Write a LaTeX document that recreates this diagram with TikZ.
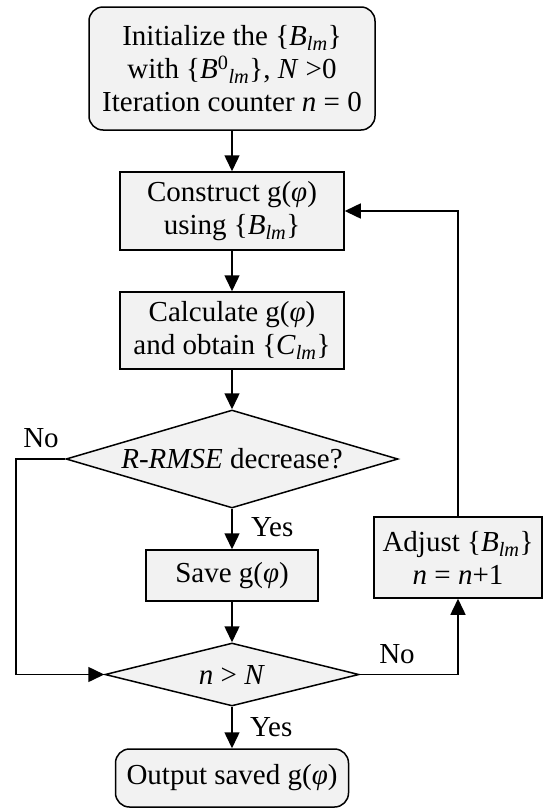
\documentclass[tikz,border=0pt]{standalone}
\usepackage{fontspec}
\setmainfont{Liberation Serif}
\usetikzlibrary{shapes.geometric,arrows.meta}
\definecolor{boxfill}{RGB}{242,242,242}
\newcommand{\fsz}{\fontsize{29}{33}\selectfont}
\newcommand{\Blm}{\{\textit{B}\textsubscript{\textit{lm}}\}}
\begin{document}
\begin{tikzpicture}[x=1pt,y=-1pt,
  box/.style={draw=black, fill=boxfill, line width=1.5pt, inner sep=0pt, align=center, font=\fsz},
  rbox/.style={box, rounded corners=14pt},
  dec/.style={box, diamond, aspect=3.4},
  arr/.style={line width=1.5pt, -{Triangle[length=16pt,width=15pt]}},
  lbl/.style={font=\fsz, inner sep=0pt}]
\useasboundingbox (0,0) rectangle (544,809);
\node[rbox, minimum width=286pt, minimum height=123pt] (init) at (232,68.5)
  {Initialize the \Blm\\ with \{\textit{B}\textsuperscript{0}\textsubscript{\textit{lm}}\}, \textit{N} >0\\ Iteration counter \textit{n} = 0};
\node[box, minimum width=224pt, minimum height=78pt] (cons) at (232,211)
  {Construct g(\textit{φ})\\ using \Blm};
\node[box, minimum width=224pt, minimum height=77pt] (calc) at (232,330.5)
  {Calculate g(\textit{φ})\\ and obtain \{\textit{C}\textsubscript{\textit{lm}}\}};
\node[dec, minimum width=332pt, minimum height=98pt] (dia1) at (232,459)
  {\makebox[0pt]{\textit{R-RMSE} decrease?}};
\node[box, minimum width=172pt, minimum height=51pt] (save) at (232,575.5)
  {Save g(\textit{φ})};
\node[dec, minimum width=254pt, minimum height=63pt] (dia2) at (232,674.5)
  {\makebox[0pt]{\textit{n} > \textit{N}}};
\node[box, minimum width=168pt, minimum height=81pt] (adj) at (458,557.5)
  {Adjust \Blm\\ \textit{n} = \textit{n}+1};
\node[rbox, minimum width=233pt, minimum height=58pt] (out) at (232,778)
  {Output saved g(\textit{φ})};
\coordinate (lx) at (16,459);
\draw[arr] (init) -- (cons);
\draw[arr] (cons) -- (calc);
\draw[arr] (calc) -- (dia1);
\draw[arr] (dia1) -- (save);
\draw[arr] (save) -- (dia2);
\draw[arr] (dia2) -- (out);
\draw[arr] (dia1.west) -- (lx) |- (dia2.west);
\draw[arr] (dia2.east) -| (adj.south);
\draw[arr] (adj.north) |- (cons.east);
\node[lbl] (no1) at (41,438) {No};
\node[lbl, anchor=west] (yes1) at (251,527) {Yes};
\node[lbl] (no2) at (397,654) {No};
\node[lbl, anchor=west] (yes2) at (250,727) {Yes};
\end{tikzpicture}
\end{document}
